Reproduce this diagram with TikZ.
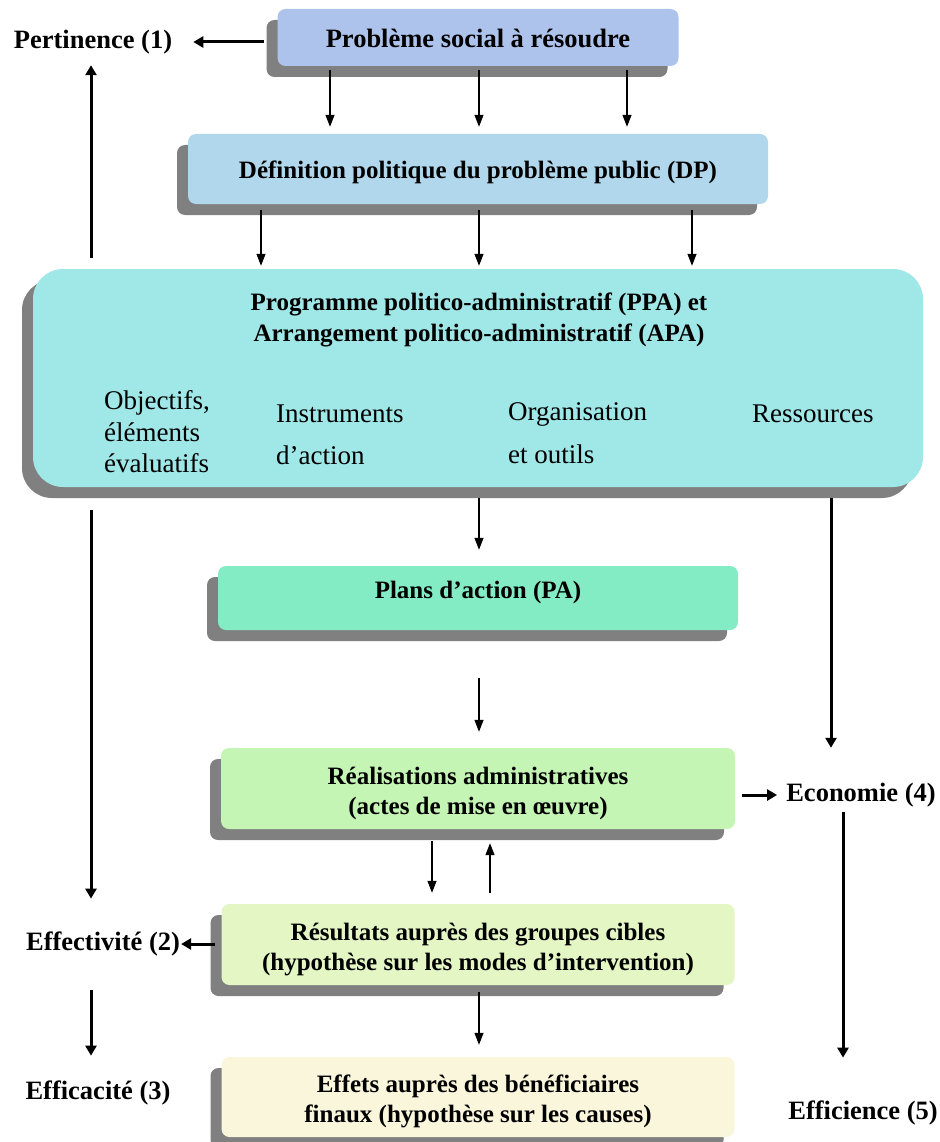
\documentclass[tikz,border=0pt]{standalone}
\usepackage{fontspec}
\setmainfont{Liberation Serif}
\usetikzlibrary{arrows.meta,shadows,calc}

\definecolor{shadowgray}{HTML}{808080}
\definecolor{cprob}{HTML}{AEC3EC}
\definecolor{cdef}{HTML}{B0D7EC}
\definecolor{cppa}{HTML}{A0E7E7}
\definecolor{cpa}{HTML}{84ECC4}
\definecolor{creal}{HTML}{C4F5B4}
\definecolor{cres}{HTML}{E3F6C4}
\definecolor{ceff}{HTML}{FAF6DC}

% box text, shifted vertically while keeping its natural size
\newcommand{\boxlines}[2][-4.5pt]{\raisebox{#1}[\height][\depth]{\begin{tabular}{@{}c@{}}#2\end{tabular}}}

\begin{document}
\begin{tikzpicture}[x=1pt,y=-1pt,
  box/.style={rounded corners=8pt, inner sep=0pt, align=center,
    font=\fontsize{25}{30}\selectfont\bfseries,
    general shadow={fill=shadowgray, shadow xshift=-11pt, shadow yshift=-11pt}},
  crit/.style={inner sep=0pt, font=\fontsize{26.5}{30}\selectfont\bfseries},
  item/.style={inner sep=0pt, align=left, anchor=west},
  thinarr/.style={line width=1.2pt, -{Triangle[length=12pt,width=9pt]}},
  thickarr/.style={line width=3pt, -{Triangle[length=10pt,width=11pt]}}]
\useasboundingbox (0,0) rectangle (939,1142);

% boxes of the policy chain
\node[box, fill=cprob, minimum width=401pt, minimum height=57pt] (b1) at (478,37.5)
  {\fontsize{26.5}{30}\selectfont\boxlines{Problème social à résoudre}};
\node[box, fill=cdef, minimum width=580pt, minimum height=70pt] (b2) at (478,169)
  {\boxlines[-3.5pt]{Définition politique du problème public (DP)}};
\node[box, rounded corners=30pt, fill=cppa, minimum width=890pt, minimum height=218pt] (b3) at (478,378) {};
\node[box, fill=cpa, minimum width=520pt, minimum height=64pt] (b4) at (478,598)
  {\boxlines[6pt]{Plans d’action (PA)}};
\node[box, fill=creal, minimum width=514pt, minimum height=81pt] (b5) at (478,788.5)
  {\boxlines{Réalisations administratives\\(actes de mise en œuvre)}};
\node[box, fill=cres, minimum width=513pt, minimum height=81pt] (b6) at (478,944.5)
  {\boxlines{Résultats auprès des groupes cibles\\(hypothèse sur les modes d’intervention)}};
\node[box, fill=ceff, minimum width=513pt, minimum height=80pt] (b7) at (478,1097)
  {\boxlines{Effets auprès des bénéficiaires\\finaux (hypothèse sur les causes)}};

% contents of the PPA/APA box
\node[inner sep=0pt, align=center, font=\fontsize{25}{31}\selectfont\bfseries] (ppat) at (479,320)
  {Programme politico-administratif (PPA) et\\Arrangement politico-administratif (APA)};
\node[item, font=\fontsize{27}{31.5}\selectfont] (obj) at (104,432) {Objectifs,\\éléments\\évaluatifs};
\node[item, font=\fontsize{27}{42}\selectfont] (ins) at (276,435) {Instruments\\d’action};
\node[item, font=\fontsize{27}{43}\selectfont] (org) at (508,433.5) {Organisation\\et outils};
\node[item, font=\fontsize{27}{31}\selectfont] (res) at (752,414) {Ressources};

% evaluation criteria
\node[crit] (pert) at (93,42) {Pertinence (1)};
\node[crit] (effv) at (103,944) {Effectivité (2)};
\node[crit] (effc) at (98,1093) {Efficacité (3)};
\node[crit] (eco) at (861,795) {Economie (4)};
\node[crit] (effi) at (863,1113) {Efficience (5)};

\coordinate (L) at (91,0);
\coordinate (R1) at (831,0);
\coordinate (R2) at (843,0);

% thin arrows along the chain
\foreach \dx in {-148,1,149}
  \draw[thinarr, shorten <=4pt, shorten >=7pt] ([xshift=\dx pt]b1.south) -- ([xshift=\dx pt]b2.north);
\foreach \dx in {-217,1,214}
  \draw[thinarr, shorten <=6pt, shorten >=3pt] ([xshift=\dx pt]b2.south) -- ([xshift=\dx pt]b3.north);
\draw[thinarr, shorten <=11pt, shorten >=16pt] ([xshift=1pt]b3.south) -- ([xshift=1pt]b4.north);
\draw[thinarr, shorten <=48pt, shorten >=16pt] ([xshift=1pt]b4.south) -- ([xshift=1pt]b5.north);
\draw[thinarr, shorten <=12pt, shorten >=11pt] ([xshift=-46pt]b5.south) -- ([xshift=-46pt]b6.north);
\draw[thinarr, shorten <=11pt, shorten >=14pt] ([xshift=12pt]b6.north) -- ([xshift=12pt]b5.south);
\draw[thinarr, shorten <=7pt, shorten >=12pt] ([xshift=1pt]b6.south) -- ([xshift=1pt]b7.north);

% thick arrows towards the criteria
\draw[thickarr, shorten <=13pt, shorten >=21pt] (b1.west |- pert.east) -- (pert.east);
\draw[thickarr, shorten <=11pt, shorten >=11pt] (L |- b3.north) -- (L |- pert.south);
\draw[thickarr, shorten <=23pt, shorten >=33pt] (L |- b3.south) -- (L |- effv.north);
\draw[thickarr, shorten <=34pt, shorten >=25pt] (L |- effv.south) -- (L |- effc.north);
\draw[thickarr, shorten <=6pt, shorten >=1pt] (b6.west |- effv.east) -- (effv.east);
\draw[thickarr, shorten <=11pt, shorten >=35pt] (R1 |- b3.south) -- (R1 |- eco.north);
\draw[thickarr, shorten <=7pt, shorten >=9pt] (b5.east |- eco.west) -- (eco.west);
\draw[thickarr, shorten <=5pt, shorten >=43pt] (R2 |- eco.south) -- (R2 |- effi.north);
\end{tikzpicture}
\end{document}
